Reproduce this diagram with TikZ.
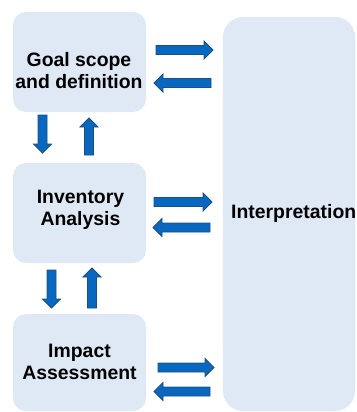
\documentclass[tikz,border=0pt]{standalone}
\usepackage{fontspec}
\setmainfont{Liberation Sans}
\definecolor{boxfill}{HTML}{DEE9F5}
\definecolor{arrfill}{HTML}{0868C0}
\definecolor{arrline}{HTML}{1F4E79}
\newcommand{\blockarrow}[4]{% name, start, length, angle
  \begin{scope}[shift={#2}, rotate=#4]
    \coordinate (#1-s) at (0,0);
    \coordinate (#1-e) at (#3,0);
    \filldraw[arr] (#1-s) ++(0,-4.5) -- ++(#3-9,0) -- ++(0,-4.5) -- (#1-e) -- ++(-9,9) -- ++(0,-4.5) -- ++(-#3+9,0) -- cycle;
  \end{scope}}
\begin{document}
\begin{tikzpicture}[x=1bp,y=-1bp,
  box/.style={fill=boxfill, draw=none, rounded corners=13bp, inner sep=0pt},
  lbl/.style={font=\fontsize{19.4bp}{22bp}\selectfont\bfseries, align=center, inner sep=0pt, text=black},
  arr/.style={fill=arrfill, draw=arrline, line width=0.8bp, line join=miter}]
\useasboundingbox (0,0) rectangle (357,412);
% boxes
\node[box, minimum width=133bp, minimum height=100bp] (goal) at (79.5,62) {};
\node[box, minimum width=133bp, minimum height=100bp] (inv) at (79.5,213) {};
\node[box, minimum width=133bp, minimum height=97bp] (imp) at (79.5,362.5) {};
\node[box, rounded corners=20bp, minimum width=132bp, minimum height=394bp] (interp) at (289,214) {};
% labels
\node[lbl] (goaltxt) at (79,71) {Goal scope\\and definition};
\node[lbl] (invtxt) at (80.5,210) {Inventory\\Analysis};
\node[lbl] (imptxt) at (79.5,361.5) {Impact\\Assessment};
\node[lbl, anchor=base west] (interptxt) at (231,218) {Interpretation};
% horizontal arrows
\blockarrow{a1}{(156,50)}{57}{0}
\blockarrow{a2}{(211,83)}{57}{180}
\blockarrow{a3}{(154,202)}{58}{0}
\blockarrow{a4}{(210,227.5)}{57}{180}
\blockarrow{a5}{(158,367.5)}{56}{0}
\blockarrow{a6}{(210,391.5)}{56}{180}
% vertical arrows
\blockarrow{v1}{(42.5,115)}{38}{-90}
\blockarrow{v2}{(89,155)}{37}{90}
\blockarrow{v3}{(51.5,270)}{38}{-90}
\blockarrow{v4}{(92,308)}{40}{90}
\end{tikzpicture}
\end{document}
